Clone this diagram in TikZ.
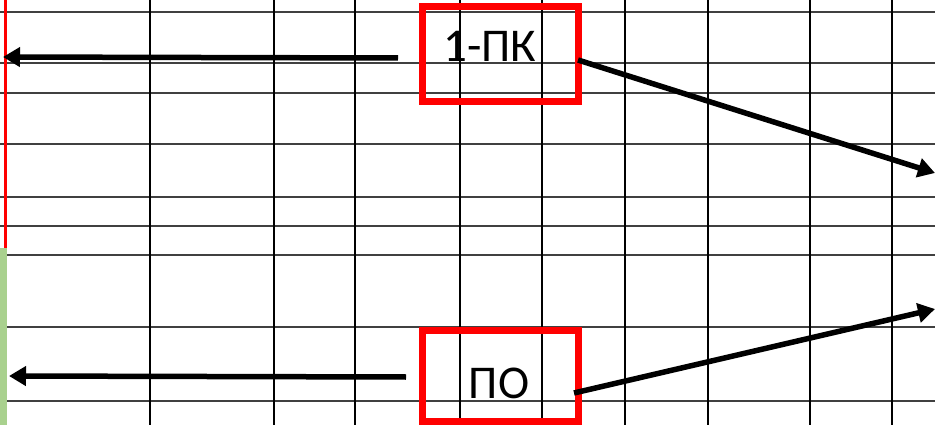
\documentclass[tikz,border=0pt]{standalone}
\usepackage{fontspec}
\setmainfont{Carlito}
\usepackage{tikz}
\usetikzlibrary{arrows.meta}

\definecolor{cellgreen}{HTML}{A9D18E}

\tikzset{
    redbox/.style={draw=red, line width=7pt, minimum width=156pt, inner sep=0pt},
    boxtext/.style={font=\fontsize{47}{47}\selectfont, inner sep=0pt, anchor=base},
    arr/.style={line width=5.5pt, -{Triangle[length=17pt,width=19pt]}},
}

\begin{document}
\begin{tikzpicture}[x=1pt,y=-1pt]
    \clip (0,0) rectangle (935,425);

    % grid
    \foreach \y in {12,63,93,144,197,226,255,327,401}
        \draw[line width=1.7pt, black!75] (0,\y) -- (935,\y);
    \foreach \x in {150,274,355,460,542,625,708,810,892}
        \draw[line width=2.4pt] (\x,0) -- (\x,425);

    % left column
    \draw[red, line width=3.5pt] (5.5,0) -- (5.5,248);
    \fill[cellgreen] (0,248) rectangle (7,425);

    % boxes
    \node[redbox, minimum height=95pt] (pk) at (500.5,54) {};
    \node[redbox, minimum height=91pt] (po) at (500.5,376) {};
    \node[boxtext] (pktext) at (490,62) {1-ПК};
    \node[boxtext] (potext) at (499,398) {ПО};

    % arrow ends
    \coordinate (pkL) at (398,58);
    \coordinate (redL) at (3,57);
    \coordinate (poL) at (406,377);
    \coordinate (greenL) at (9,376);
    \coordinate (pkR) at (578,60);
    \coordinate (rightA) at (935,173);
    \coordinate (poR) at (574,393);
    \coordinate (rightB) at (935,309);

    % arrows
    \draw[arr] (pkL) -- (redL);
    \draw[arr] (poL) -- (greenL);
    \draw[arr] (pkR) -- (rightA);
    \draw[arr] (poR) -- (rightB);

\end{tikzpicture}
\end{document}
